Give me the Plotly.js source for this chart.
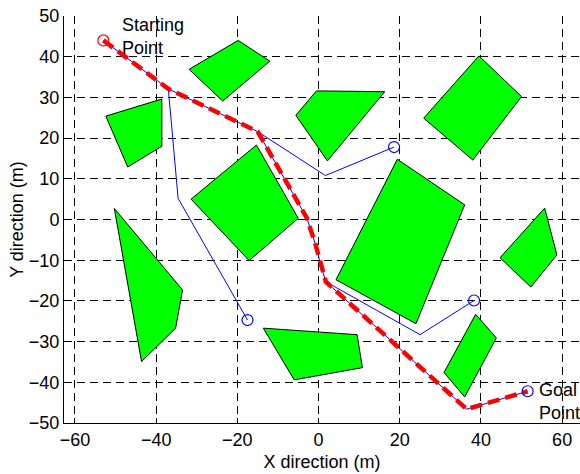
<!DOCTYPE html>
<html><head><meta charset="utf-8">
<script src="https://cdn.plot.ly/plotly-3.0.1.min.js"></script>
<style>html,body{margin:0;padding:0;background:#fff}#chart{width:580px;height:474px}</style>
</head><body><div id="chart"></div>
<script>
// Obstacle polygons (vertex lists)
const obstaclesX = [
  [-31.9, -19.8, -12.0, -23.6],
  [-52.4, -38.6, -38.6, -47.0],
  [-5.6, -0.5, 16.3, 2.2],
  [39.5, 50.0, 38.0, 25.9],
  [-31.4, -15.3, -5.0, -17.1],
  [19.4, 36.0, 24.0, 4.3],
  [-50.3, -33.5, -35.2, -43.6],
  [55.7, 58.7, 52.3, 44.7],
  [-13.6, 9.5, 10.8, -6.0],
  [38.7, 43.8, 36.0, 30.9]
];
const obstaclesY = [
  [36.9, 44.0, 38.9, 29.1],
  [25.4, 29.6, 18.0, 12.9],
  [25.6, 31.6, 31.4, 14.4],
  [40.2, 30.2, 14.6, 24.9],
  [5.0, 18.3, 0.3, -10.1],
  [14.8, 3.6, -25.6, -14.8],
  [2.7, -17.3, -26.7, -34.9],
  [2.8, -8.7, -16.6, -9.4],
  [-26.7, -28.3, -36.4, -39.4],
  [-23.3, -29.1, -43.6, -37.6]
];
// Final path (start -> goal)
const pathX = [-53.0, -37.0, -15.0, -2.9, -0.7, 0.6, 1.8, 36.5, 51.5];
const pathY = [44.0, 32.1, 21.6, 0.4, -6.3, -11.4, -15.3, -46.6, -42.2];
// Tree side branches
const branchesX = [[-37.0, -34.6, -17.5], [-15.0, 1.7, 18.6], [1.8, 25.0, 38.3]];
const branchesY = [[32.1, 5.2, -24.7], [21.6, 10.8, 17.8], [-15.3, -28.3, -19.9]];
// Leaf nodes (blue circles)
const leafX = [-17.5, 18.6, 38.3, 51.5];
const leafY = [-24.7, 17.8, -19.9, -42.2];
const startX = [-53.0], startY = [44.0];
const xTicks = [-60, -40, -20, 0, 20, 40, 60];
const yTicks = [-50, -40, -30, -20, -10, 0, 10, 20, 30, 40, 50];

const traces = [];
obstaclesX.forEach((xs, i) => {
  const ys = obstaclesY[i];
  traces.push({
    type: 'scatter', mode: 'lines',
    x: xs.concat([xs[0]]), y: ys.concat([ys[0]]),
    fill: 'toself', fillcolor: '#00ff00',
    line: {color: '#000', width: 1},
    hoverinfo: 'skip', showlegend: false
  });
});
// tree
let treeX = pathX.slice(), treeY = pathY.slice();
branchesX.forEach((bx, i) => {
  treeX = treeX.concat([null], bx);
  treeY = treeY.concat([null], branchesY[i]);
});
traces.push({
  type: 'scatter', mode: 'lines', x: treeX, y: treeY, connectgaps: false,
  line: {color: '#0000ff', width: 1}, showlegend: false
});
traces.push({
  type: 'scatter', mode: 'lines', x: pathX, y: pathY,
  line: {color: '#ff0000', width: 4.5, dash: '12px,6px'}, showlegend: false
});
traces.push({
  type: 'scatter', mode: 'markers', x: leafX, y: leafY,
  marker: {symbol: 'circle-open', size: 11, color: '#0000ff', line: {width: 1.2, color: '#0000ff'}},
  showlegend: false, cliponaxis: false
});
traces.push({
  type: 'scatter', mode: 'markers', x: startX, y: startY,
  marker: {symbol: 'circle-open', size: 11, color: '#ff0000', line: {width: 1.2, color: '#ff0000'}},
  showlegend: false, cliponaxis: false
});

const axisCommon = {
  showgrid: true, gridcolor: '#000', gridwidth: 1, griddash: '8px,5px',
  zeroline: false, showline: true, linecolor: '#000', linewidth: 1,
  ticks: 'inside', ticklen: 5, tickcolor: '#000', tickwidth: 1,
  tickfont: {size: 18, color: '#000'}
};
const layout = {
  width: 580, height: 474,
  margin: {l: 64, r: 0, t: 16, b: 51},
  paper_bgcolor: '#fff', plot_bgcolor: '#fff',
  font: {family: 'Liberation Sans, Arial, sans-serif', size: 18, color: '#000'},
  xaxis: Object.assign({}, axisCommon, {
    range: [-62.7, 64.4], tickmode: 'array', tickvals: xTicks,
    title: {text: 'X direction (m)', font: {size: 18}, standoff: 6}
  }),
  yaxis: Object.assign({}, axisCommon, {
    range: [-50, 50], tickmode: 'array', tickvals: yTicks,
    title: {text: 'Y direction (m)', font: {size: 18}, standoff: 0}
  }),
  annotations: [
    {x: -48.9, y: 44.9, xref: 'x', yref: 'y', text: 'Starting<br>Point', showarrow: false,
     xanchor: 'left', yanchor: 'middle', align: 'left', font: {size: 18}},
    {x: 53.8, y: -44.8, xref: 'x', yref: 'y', text: 'Goal<br>Point', showarrow: false,
     xanchor: 'left', yanchor: 'middle', align: 'left', font: {size: 18}}
  ],
  showlegend: false
};
Plotly.newPlot('chart', traces, layout, {displayModeBar: false, staticPlot: true});
</script>
</body></html>
